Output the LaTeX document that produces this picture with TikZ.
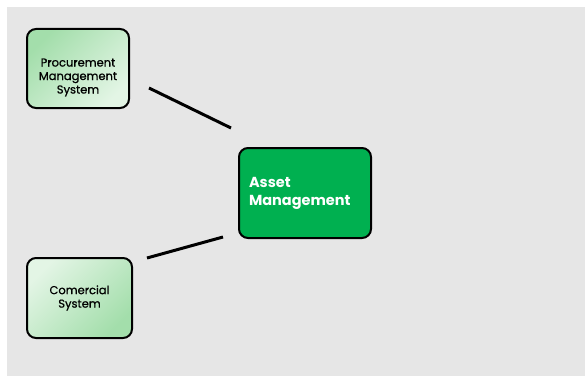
\documentclass[tikz,border=0pt]{standalone}
\usepackage{fontspec}
\setmainfont{Poppins}
\newfontfamily\boxfont{Poppins}[FakeBold=0.8]
\usetikzlibrary{calc,positioning}

\definecolor{bggray}{HTML}{E6E6E6}
\definecolor{assetgreen}{HTML}{00B050}
\definecolor{darkmint}{HTML}{A3DEAB}
\definecolor{lightmint}{HTML}{E3F5E5}

\tikzset{
  sysbox/.style={draw=black, line width=2pt, rounded corners=9pt,
    align=center, inner sep=0pt, font=\boxfont\fontsize{11.5}{13.5}\selectfont},
  link/.style={line width=3pt, black}
}

\begin{document}
\begin{tikzpicture}[x=1pt,y=-1pt]

  %%background
  \useasboundingbox (0,0) rectangle (585,377);
  \fill[bggray] (7,7) rectangle (585,376);

  %%systems
  \node[sysbox, minimum width=102pt, minimum height=79pt,
        top color=darkmint, bottom color=lightmint, shading angle=45]
        (procurement) at (78,68.5) {\rule{0pt}{26pt}Procurement\\Management\\System};
  \node[sysbox, minimum width=105pt, minimum height=80pt,
        top color=lightmint, bottom color=darkmint, shading angle=45]
        (comercial) at (79.5,298) {Comercial\\System};
  \node[sysbox, fill=assetgreen, text=white, align=left,
        text width=112pt, inner xsep=10pt, minimum height=90pt,
        font=\bfseries\fontsize{14.5}{18}\selectfont]
        (asset) at (305,193) {Asset\\Management};

  %%links
  \draw[link] ($(procurement.east)+(19,19.5)$) -- ($(asset.north west)+(-7,-19)$);
  \draw[link] ($(comercial.north east)+(14,1)$) -- ($(asset.south west)+(-15,-2)$);

\end{tikzpicture}
\end{document}
